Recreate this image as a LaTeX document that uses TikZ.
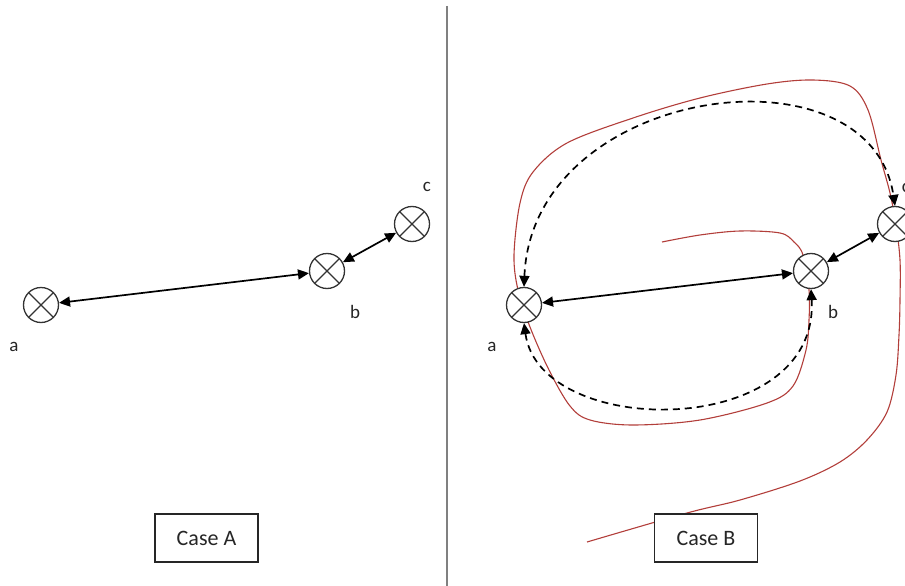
\documentclass[tikz,border=0pt]{standalone}
\usepackage{fontspec}
\setmainfont{Carlito}
\usetikzlibrary{arrows.meta,backgrounds}
\definecolor{redline}{RGB}{178,62,58}
\definecolor{divgray}{RGB}{128,128,128}
\begin{document}
\begin{tikzpicture}[x=1pt,y=-1pt,
  xnode/.style={circle,draw=black!80,line width=1.3pt,fill=white,minimum size=35pt,inner sep=0pt,
    path picture={\draw[black!80,line width=1.1pt]
      ([shift={(45:17.5pt)}]path picture bounding box.center) -- ([shift={(225:17.5pt)}]path picture bounding box.center)
      ([shift={(135:17.5pt)}]path picture bounding box.center) -- ([shift={(315:17.5pt)}]path picture bounding box.center);}},
  lbl/.style={inner sep=0pt,text=black!85,font=\fontsize{19}{22}\selectfont},
  casebox/.style={draw=black!85,line width=1.4pt,fill=white,minimum width=103pt,minimum height=48pt,inner sep=0pt,text=black!85,font=\fontsize{22}{26}\selectfont},
  tip/.tip={Triangle[length=11pt,width=10pt]},
  link/.style={line width=1.7pt,tip-tip},
  dlink/.style={line width=1.7pt,dash pattern=on 7pt off 5pt,tip-tip},
  redcurve/.style={draw=redline,line width=1.1pt}
]
\useasboundingbox (0,0) rectangle (905,586);
% divider
\draw[divgray,line width=2.6pt] (447,6) -- (447,165);
\draw[divgray,line width=1.3pt] (447,165) -- (447,206);
\draw[divgray,line width=2.6pt] (447,206) -- (447,586);

% Case A
\node[xnode] (a1) at (41,305) {};
\node[xnode] (b1) at (327,271) {};
\node[xnode] (c1) at (412,224) {};
\node[lbl] (la1) at (14,347) {a};
\node[lbl] (lb1) at (355,312) {b};
\node[lbl] (lc1) at (427,187) {c};
\draw[link] (a1) -- (b1);
\draw[link] (b1) -- (c1);
\node[casebox] (boxA) at (206.5,538) {Case A};

% Case B
\node[xnode] (a2) at (524,305) {};
\node[xnode] (b2) at (811,271) {};
\node[xnode] (c2) at (895,224) {};
\node[lbl] (la2) at (492,347) {a};
\node[lbl] (lb2) at (833,312) {b};
\node[lbl] (lc2) at (906,188) {c};
\draw[link] (a2) -- (b2);
\draw[link] (b2) -- (c2);
\draw[dlink] (a2.north) .. controls (532,85) and (870,40) .. (c2.north);
\draw[dlink] (a2.south) .. controls (540,440) and (820,440) .. (b2.south);
\node[casebox] (boxB) at (706,538) {Case B};

\begin{pgfonlayer}{background}
\draw[redcurve] plot[smooth,tension=0.55] coordinates {
  (662,242) (700,235) (740,231) (780,233) (794,242) (803,255) (809,290) (809,320) (806,350)
  (793,386) (767,403) (700,420) (633,425) (590,420) (570,406) (549,370) (530,327) (518,290)
  (514,255) (520,203) (533,172) (567,143) (633,118) (700,98) (767,84) (813,80) (850,86)
  (868,110) (881,160) (890,193) (896,225) (900,260) (900,300) (899,335) (896,375) (887,412)
  (867,440) (840,462) (800,481) (740,500) (687,513) (587,542)};
\end{pgfonlayer}
\end{tikzpicture}
\end{document}
